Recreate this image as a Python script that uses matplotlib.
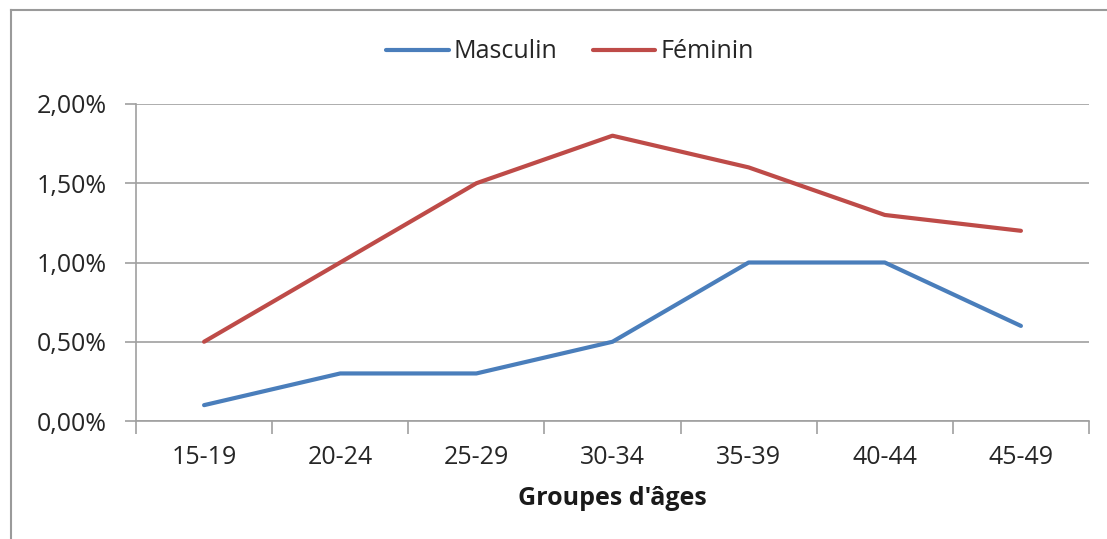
import numpy as np
import matplotlib.pyplot as plt
from matplotlib.lines import Line2D

groupes = ['15-19', '20-24', '25-29', '30-34', '35-39', '40-44', '45-49']
masculin = [0.10, 0.30, 0.30, 0.50, 1.00, 1.00, 0.60]
feminin = [0.50, 1.00, 1.50, 1.80, 1.60, 1.30, 1.20]
y_ticks = [0.0, 0.5, 1.0, 1.5, 2.0]

blue = '#4A7EBB'
red = '#BE4B48'
grey = '#A0A0A0'
fs = 18

plt.rcParams['font.family'] = ['Open Sans', 'DejaVu Sans']

fig = plt.figure(figsize=(11.07, 5.39), dpi=100)
ax = fig.add_axes([136/1107, 1 - 421/539, (1089 - 136)/1107, (421 - 104)/539])

# outer chart border (top and left visible, runs off the image right/bottom)
fig.add_artist(Line2D([11/1107, 1.0], [1 - 10/539, 1 - 10/539], transform=fig.transFigure,
                      color='#9A9A9A', lw=1.5))
fig.add_artist(Line2D([11/1107, 11/1107], [0.0, 1 - 10/539], transform=fig.transFigure,
                      color='#9A9A9A', lw=1.5))

x = np.arange(len(groupes))
ax.plot(x, masculin, color=blue, lw=3, label='Masculin', solid_capstyle='round')
ax.plot(x, feminin, color=red, lw=3, label='Féminin', solid_capstyle='round')

ax.set_xlim(-0.5, len(groupes) - 0.5)
ax.set_ylim(0, 2.0)

ax.set_yticks(y_ticks)
ax.set_yticklabels([('%.2f%%' % v).replace('.', ',') for v in y_ticks])
ax.yaxis.grid(True, color=grey, lw=1.2)
ax.set_axisbelow(True)

# ticks between categories, labels at category centres
ax.set_xticks(np.arange(-0.5, len(groupes), 1.0))
ax.set_xticklabels([])
ax.set_xticks(x, minor=True)
ax.set_xticklabels(groupes, minor=True)
ax.tick_params(axis='x', which='major', length=9, color=grey, width=1.2, direction='out')
ax.tick_params(axis='x', which='minor', length=0, pad=17, labelsize=fs, labelcolor='#262626')
ax.tick_params(axis='y', length=8, color=grey, width=1.2, pad=13, labelsize=fs, labelcolor='#262626')

for s in ['top', 'right']:
    ax.spines[s].set_visible(False)
for s in ['left', 'bottom']:
    ax.spines[s].set_color(grey)
    ax.spines[s].set_linewidth(1.2)

ax.set_xlabel("Groupes d'âges", fontsize=fs, fontweight='bold', labelpad=12, color='#1a1a1a')

leg = fig.legend(loc='center', bbox_to_anchor=(570/1107, 1 - 52/539), ncol=2, frameon=False,
                 fontsize=fs, handlelength=2.5, handletextpad=0.2, columnspacing=1.4)
for t in leg.get_texts():
    t.set_color('#262626')

fig.savefig('out.png', dpi=100)
